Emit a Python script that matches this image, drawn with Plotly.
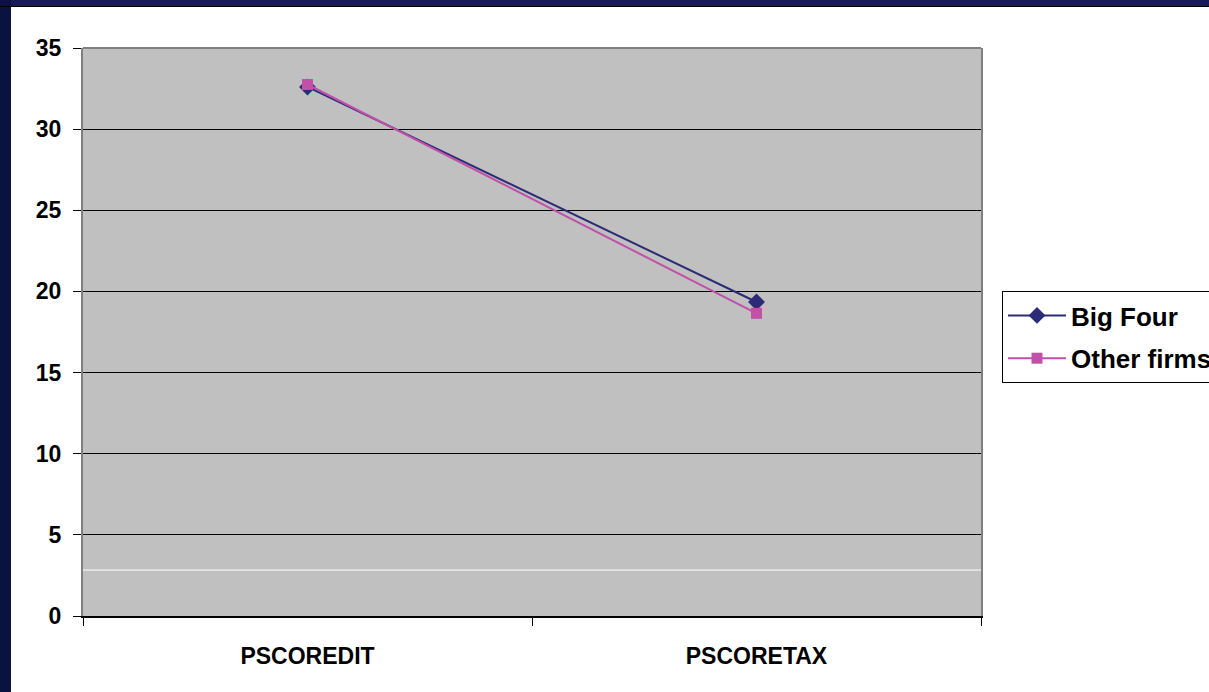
import plotly.graph_objects as go

# Mean propensity scores by auditor type
categories = ["PSCOREDIT", "PSCORETAX"]
big_four = [32.6, 19.35]
other_firms = [32.75, 18.65]
y_ticks = [0, 5, 10, 15, 20, 25, 30, 35]

NAVY = "#2B2B78"
PINK = "#C050A8"
FONT = "Liberation Sans, Arial, sans-serif"

fig = go.Figure()
fig.add_trace(go.Scatter(
    x=categories, y=big_four, name="Big Four", mode="lines+markers",
    line=dict(color=NAVY, width=2),
    marker=dict(symbol="diamond", size=13, color=NAVY),
    legendgroup="a",
))
fig.add_trace(go.Scatter(
    x=categories, y=other_firms, name="Other firms", mode="lines+markers",
    line=dict(color=PINK, width=2),
    marker=dict(symbol="square", size=11, color=PINK),
    legendgroup="b",
))

W, H = 1209, 692
L, R, T, B = 83, 228, 48, 76
pw, ph = W - L - R, H - T - B


def px_x(p):
    return (p - L) / pw


def px_y(p):
    return (H - B - p) / ph


shapes = [
    # slide frame: dark band on top and left
    dict(type="rect", xref="paper", yref="paper", x0=px_x(0), x1=px_x(W),
         y0=px_y(6), y1=px_y(0), fillcolor="#191B55", line=dict(width=0), layer="below"),
    dict(type="line", xref="paper", yref="paper", x0=px_x(0), x1=px_x(W),
         y0=px_y(6.5), y1=px_y(6.5), line=dict(color="#000000", width=1)),
    dict(type="rect", xref="paper", yref="paper", x0=px_x(0), x1=px_x(11),
         y0=px_y(H), y1=px_y(0), fillcolor="#0B1240", line=dict(width=0), layer="below"),
    # top border of plot area
    dict(type="line", xref="paper", yref="paper", x0=0, x1=1, y0=1, y1=1,
         line=dict(color="#808080", width=2)),
    # faint white rule near the bottom of the plot area
    dict(type="line", xref="paper", yref="y", x0=0, x1=1, y0=2.83, y1=2.83,
         line=dict(color="#FFFFFF", width=1), layer="below"),
]

fig.update_layout(
    width=W, height=H,
    margin=dict(l=L, r=R, t=T, b=B, autoexpand=False),
    paper_bgcolor="#FFFFFF",
    plot_bgcolor="#C0C0C0",
    font=dict(family=FONT, size=23, color="#000000", weight="bold"),
    showlegend=True,
    legend=dict(
        x=px_x(1002), y=px_y(291), xanchor="left", yanchor="top",
        bordercolor="#000000", borderwidth=1, bgcolor="#FFFFFF",
        font=dict(family=FONT, size=26, color="#000000", weight="bold"),
        traceorder="grouped", tracegroupgap=6,
        itemwidth=58,
    ),
    shapes=shapes,
    xaxis=dict(
        type="category", range=[-0.5, 1.5],
        showgrid=False, zeroline=False,
        showline=True, linecolor="#000000", linewidth=2,
        ticks="outside", ticklen=8, tickcolor="#000000", tickwidth=1,
        tickson="boundaries", ticklabelstandoff=18,
        tickfont=dict(family=FONT, size=23, weight="bold"),
    ),
    yaxis=dict(
        range=[0, 35], tickvals=y_ticks,
        showgrid=True, gridcolor="#000000", gridwidth=1,
        zeroline=False,
        showline=True, linecolor="#808080", linewidth=2, mirror=True,
        ticks="outside", ticklen=8, tickcolor="#000000", tickwidth=1,
        ticklabelstandoff=7,
        tickfont=dict(family=FONT, size=23, weight="bold"),
    ),
)

fig.write_html("out.html")
